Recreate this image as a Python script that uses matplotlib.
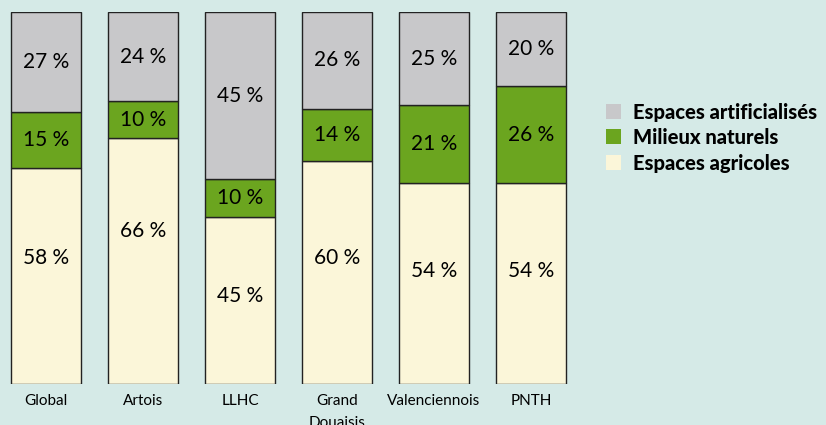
import matplotlib
matplotlib.use("Agg")
import matplotlib.pyplot as plt
from matplotlib.patches import Rectangle

plt.rcParams['font.family'] = ['Lato', 'DejaVu Sans']

territoires = ["Global", "Artois", "LLHC", "Grand\nDouaisis", "Valenciennois", "PNTH"]
agricoles = [58, 66, 45, 60, 54, 54]
naturels = [15, 10, 10, 14, 21, 26]
artificialises = [27, 24, 45, 26, 25, 20]
series_noms = ["Espaces artificialisés", "Milieux naturels", "Espaces agricoles"]

# petit décalage vertical des étiquettes agricoles (comme sur l'original)
decal_agri = [4.9, 8.1, 1.1, 3.8, 3.5, 3.5]

fond = "#d5eae7"
c_agri = "#fbf6d9"
c_nat = "#6ba51f"
c_art = "#c8c8ca"

W, H = 826, 425
fig = plt.figure(figsize=(W / 100, H / 100), dpi=100, facecolor=fond)
ax = fig.add_axes([0, 41 / H, 580 / W, 372 / H])
ax.set_facecolor(fond)

x = list(range(len(territoires)))
w = 70 / 97
kw = dict(width=w, edgecolor="#222222", linewidth=1.0)
ax.bar(x, agricoles, color=c_agri, **kw)
ax.bar(x, naturels, bottom=agricoles, color=c_nat, **kw)
bas_art = [a + n for a, n in zip(agricoles, naturels)]
ax.bar(x, artificialises, bottom=bas_art, color=c_art, **kw)

fs = 15
for i in x:
    ax.text(i, agricoles[i] / 2 + decal_agri[i], f"{agricoles[i]} %", ha="center", va="center", fontsize=fs)
    ax.text(i, agricoles[i] + naturels[i] / 2, f"{naturels[i]} %", ha="center", va="center", fontsize=fs)
    ax.text(i, bas_art[i] + artificialises[i] / 2, f"{artificialises[i]} %", ha="center", va="center", fontsize=fs)

ax.set_xlim(-46 / 97, (580 - 46) / 97)
ax.set_ylim(0, 100)
ax.set_xticks(x)
ax.set_xticklabels(territoires, fontsize=11, linespacing=1.65, va="top")
ax.tick_params(axis="x", length=0, pad=7.5)
ax.set_yticks([])
for s in ax.spines.values():
    s.set_visible(False)

# légende faite à la main
couleurs = [c_art, c_nat, c_agri]
for k, (nom, c) in enumerate(zip(series_noms, couleurs)):
    yc = 111 + 25.5 * k
    fig.add_artist(Rectangle((606 / W, 1 - (yc + 7.5) / H), 15 / W, 15 / H,
                             transform=fig.transFigure, facecolor=c, edgecolor="none"))
    fig.text(633 / W, 1 - yc / H, nom, ha="left", va="center_baseline",
             fontsize=14.5, fontweight="black")

fig.savefig("out.png", dpi=100, facecolor=fond)
